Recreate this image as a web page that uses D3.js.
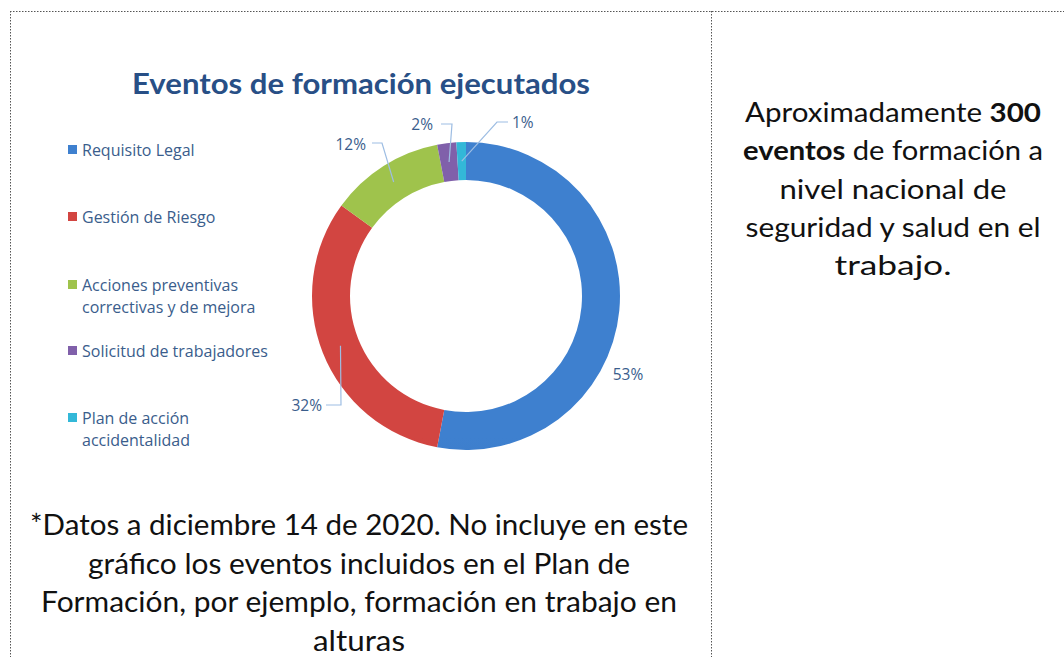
<!DOCTYPE html>
<html>
<head>
<meta charset="utf-8">
<script src="https://cdn.jsdelivr.net/npm/d3@7"></script>
<style>
  body { margin: 0; background: #fff; }
  svg { display: block; }
</style>
</head>
<body>
<svg id="chart" width="1064" height="657"></svg>
<script>
// datos del gráfico
const categorias = [
  "Requisito Legal",
  "Gestión de Riesgo",
  "Acciones preventivas correctivas y de mejora",
  "Solicitud de trabajadores",
  "Plan de acción accidentalidad",
];
const porcentajes = [53, 32, 12, 2, 1];
const etiquetasLeyenda = [
  ["Requisito Legal"],
  ["Gestión de Riesgo"],
  ["Acciones preventivas", "correctivas y de mejora"],
  ["Solicitud de trabajadores"],
  ["Plan de acción", "accidentalidad"],
];
const titulo = "Eventos de formación ejecutados";
const notaLineas = [
  "*Datos a diciembre 14 de 2020. No incluye en este",
  "gráfico los eventos incluidos en el Plan de",
  "Formación, por ejemplo, formación en trabajo en",
  "alturas",
];

// colores (arriba claro, abajo oscuro)
const coloresTop = ["#3e80cf", "#d24541", "#9fc34c", "#8060aa", "#33b8d8"];
const coloresBot = ["#2d5c98", "#9f2d2b", "#76943a", "#5e4480", "#2590ac"];

const svg = d3.select("#chart");
const fuente = "Lato, 'Open Sans', sans-serif";
const fuenteChica = "'Open Sans', sans-serif";

// bordes punteados de la tabla
const borde = svg.append("g")
  .attr("stroke", "#555")
  .attr("stroke-width", 1)
  .attr("stroke-dasharray", "1.5,1.5");
borde.append("line").attr("x1", 10).attr("y1", 11.5).attr("x2", 1064).attr("y2", 11.5);
borde.append("line").attr("x1", 10.5).attr("y1", 11).attr("x2", 10.5).attr("y2", 657);
borde.append("line").attr("x1", 711.5).attr("y1", 11).attr("x2", 711.5).attr("y2", 657);

// título
svg.append("text")
  .attr("x", 361)
  .attr("y", 94)
  .attr("text-anchor", "middle")
  .attr("font-family", fuente)
  .attr("font-weight", "bold")
  .attr("font-size", 28)
  .attr("fill", "#284f86")
  .attr("textLength", 458)
  .attr("lengthAdjust", "spacingAndGlyphs")
  .text(titulo);

// gradientes
const cx = 466, cy = 296, rOut = 154, rIn = 116;
const defs = svg.append("defs");
coloresTop.forEach((c, i) => {
  const g = defs.append("linearGradient")
    .attr("id", "grad" + i)
    .attr("gradientUnits", "userSpaceOnUse")
    .attr("x1", 0).attr("y1", cy - rOut)
    .attr("x2", 0).attr("y2", cy + rOut);
  g.append("stop").attr("offset", "0%").attr("stop-color", c);
  g.append("stop").attr("offset", "100%").attr("stop-color", coloresBot[i]);
});

// anillo
const pie = d3.pie().sort(null).value((d) => d);
const arcos = pie(porcentajes);
const arc = d3.arc().innerRadius(rIn).outerRadius(rOut);
const arcMedio = d3.arc().innerRadius((rIn + rOut) / 2).outerRadius((rIn + rOut) / 2);

const gDona = svg.append("g").attr("transform", `translate(${cx},${cy})`);
gDona.selectAll("path")
  .data(arcos)
  .enter()
  .append("path")
  .attr("d", arc)
  .attr("fill", (d, i) => `url(#grad${i})`);

// etiquetas de porcentaje con líneas guía (posición de cada etiqueta)
const etiquetaPos = [
  { x: 628, y: 380, anchor: "middle", guia: null },
  { x: 322, y: 411, anchor: "end", guia: [[326, 405], [341, 405]] },
  { x: 366, y: 150, anchor: "end", guia: [[372, 143], [382, 143]] },
  { x: 433, y: 130, anchor: "end", guia: [[441, 124], [452, 124]] },
  { x: 512, y: 128, anchor: "start", guia: [[508, 122], [497, 122]] },
];

arcos.forEach((a, i) => {
  const p = etiquetaPos[i];
  if (p.guia) {
    const c = arcMedio.centroid(a);
    const pts = p.guia.concat([[cx + c[0], cy + c[1]]]);
    svg.append("path")
      .attr("d", d3.line()(pts))
      .attr("fill", "none")
      .attr("stroke", "#9dbde3")
      .attr("stroke-width", 1.2);
  }
  svg.append("text")
    .attr("x", p.x)
    .attr("y", p.y)
    .attr("text-anchor", p.anchor)
    .attr("font-family", fuenteChica)
    .attr("font-size", 15.5)
    .attr("fill", "#3a5d8c")
    .text(d3.format(".0f")(a.data) + "%");
});

// leyenda
const leyendaY = [150, 217, 285, 351, 418];
etiquetasLeyenda.forEach((lineas, i) => {
  svg.append("rect")
    .attr("x", 68)
    .attr("y", leyendaY[i] - 5)
    .attr("width", 9)
    .attr("height", 9)
    .attr("fill", coloresTop[i]);
  const t = svg.append("text")
    .attr("font-family", fuenteChica)
    .attr("font-size", 16)
    .attr("fill", "#3a5d8c");
  lineas.forEach((l, j) => {
    t.append("tspan")
      .attr("x", 82)
      .attr("y", leyendaY[i] + 5.5 + j * 22.5)
      .text(l);
  });
});

// nota inferior
const notaAnchos = [658, 542, 636, 92];
notaLineas.forEach((l, i) => {
  svg.append("text")
    .attr("x", 359)
    .attr("y", 535 + i * 38.5)
    .attr("text-anchor", "middle")
    .attr("font-family", fuente)
    .attr("font-size", 28)
    .attr("fill", "#111")
    .attr("textLength", notaAnchos[i])
    .attr("lengthAdjust", "spacingAndGlyphs")
    .text(l);
});

// texto de la derecha
const derecha = [
  [["Aproximadamente ", false], ["300", true]],
  [["eventos", true], [" de formación a", false]],
  [["nivel nacional de", false]],
  [["seguridad y salud en el", false]],
  [["trabajo.", false]],
];
const derechaAnchos = [296, 300, 227, 295, 117];
derecha.forEach((partes, i) => {
  const t = svg.append("text")
    .attr("x", 893)
    .attr("y", 122 + i * 38.3)
    .attr("text-anchor", "middle")
    .attr("font-family", fuente)
    .attr("font-size", 27)
    .attr("fill", "#111")
    .attr("textLength", derechaAnchos[i])
    .attr("lengthAdjust", "spacingAndGlyphs");
  partes.forEach((p) => {
    t.append("tspan")
      .attr("font-weight", p[1] ? "bold" : "normal")
      .text(p[0]);
  });
});
</script>
</body>
</html>
